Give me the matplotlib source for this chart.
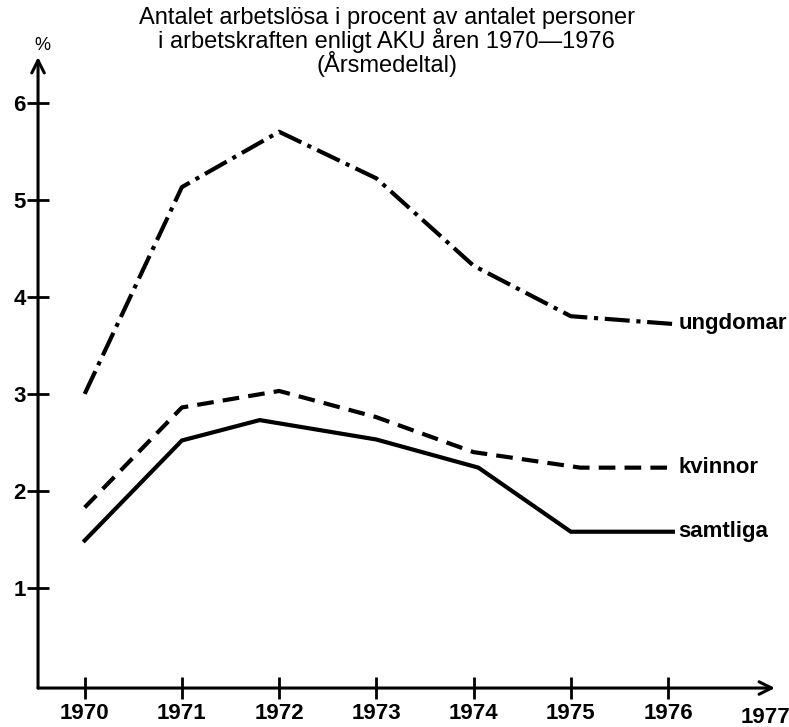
import matplotlib
matplotlib.use("Agg")
import matplotlib.pyplot as plt

# Data
ung_x = [1970.0, 1971.0, 1972.0, 1973.0, 1974.0, 1975.0, 1976.05]
ung_y = [3.0, 5.13, 5.70, 5.22, 4.32, 3.80, 3.72]
kvi_x = [1970.0, 1971.0, 1972.0, 1973.0, 1974.0, 1975.1, 1976.05]
kvi_y = [1.83, 2.86, 3.03, 2.76, 2.40, 2.24, 2.24]
sam_x = [1970.0, 1971.0, 1971.8, 1973.0, 1974.05, 1975.0, 1976.05]
sam_y = [1.49, 2.52, 2.73, 2.53, 2.24, 1.58, 1.58]
series_labels = ["ungdomar", "kvinnor", "samtliga"]
xtick_vals = [1970, 1971, 1972, 1973, 1974, 1975, 1976]
xtick_labels = ["1970", "1971", "1972", "1973", "1974", "1975", "1976"]
ytick_vals = [1, 2, 3, 4, 5, 6]
title = ("Antalet arbetslösa i procent av antalet personer\n"
         "i arbetskraften enligt AKU åren 1970—1976\n"
         "(Årsmedeltal)")

FONT = ["Liberation Sans", "DejaVu Sans"]
plt.rcParams['font.family'] = FONT

fig = plt.figure(figsize=(7.89, 7.27), dpi=100)
ax = fig.add_axes([0.0482, 0.0536, 0.934, 0.868])
ax.set_xlim(1969.52, 1977.1)
ax.set_ylim(-0.03, 6.47)

lw = 3.0
ax.plot(ung_x, ung_y, color="black", lw=lw, dashes=(6.0, 1.6, 1.0, 1.6))
ax.plot(kvi_x, kvi_y, color="black", lw=lw, dashes=(4, 2.2))
ax.plot(sam_x, sam_y, color="black", lw=lw)

for xs, ys, lab in zip([ung_x, kvi_x, sam_x], [ung_y, kvi_y, sam_y], series_labels):
    ax.text(xs[-1] + 0.06, ys[-1], lab, fontsize=16, va="center", ha="left",
            fontweight="bold")

for s in ax.spines.values():
    s.set_visible(False)

# axes with arrows
ax.annotate("", xy=(1, 0), xytext=(0, 0), xycoords="axes fraction",
            arrowprops=dict(arrowstyle="->,head_length=0.9,head_width=0.45",
                            lw=2.2, color="black", shrinkA=0, shrinkB=0),
            annotation_clip=False)
ax.annotate("", xy=(0, 1), xytext=(0, 0), xycoords="axes fraction",
            arrowprops=dict(arrowstyle="->,head_length=0.9,head_width=0.45",
                            lw=2.2, color="black", shrinkA=0, shrinkB=0),
            annotation_clip=False)

ax.set_xticks(xtick_vals)
ax.set_xticklabels(xtick_labels, fontsize=16, fontweight="bold")
ax.set_yticks(ytick_vals)
ax.set_yticklabels([str(v) for v in ytick_vals], fontsize=16, fontweight="bold")
ax.tick_params(axis="both", direction="inout", length=16, width=2, color="black")
ax.tick_params(axis="x", pad=3)
ax.tick_params(axis="y", pad=1)
ax.text(1977.0, -0.33, "1977", fontsize=16, fontweight="bold", ha="center",
        va="center", transform=ax.transData, clip_on=False)

fig.text(0.49, 0.99, title, ha="center", va="top", fontsize=17,
         linespacing=0.93)
fig.text(0.054, 0.937, "%", ha="center", va="center", fontsize=13)

fig.savefig("out.png", dpi=100, facecolor="white")
